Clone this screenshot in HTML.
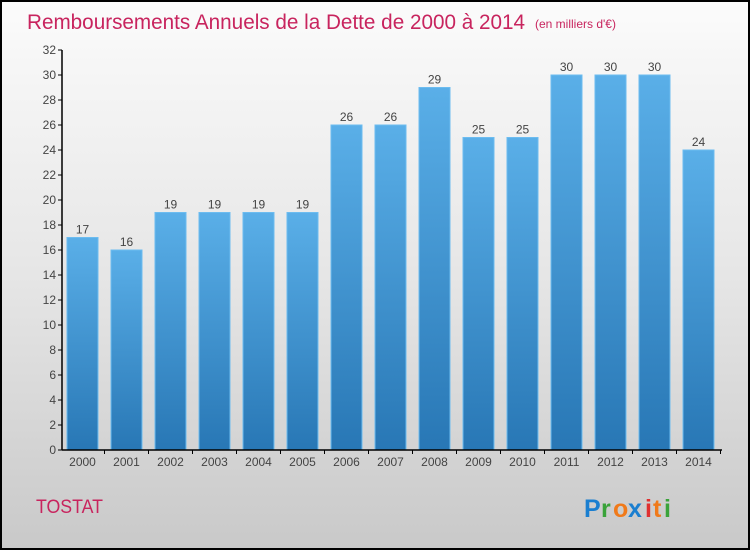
<!DOCTYPE html>
<html><head><meta charset="utf-8"><style>
body{margin:0}
#c{width:750px;height:550px;position:relative;box-sizing:border-box;border:2px solid #000;background:linear-gradient(#fbfbfb,#e6e6e6 50%,#c9c9c9);font-family:"Liberation Sans",sans-serif;overflow:hidden}
svg{position:absolute;left:-2px;top:-2px}
</style></head><body>
<div id="c">
<svg width="750" height="550" id="s">
<defs><linearGradient id="g" x1="0" y1="0" x2="0" y2="1"><stop offset="0" stop-color="#5aafe8"/><stop offset="1" stop-color="#2877b5"/></linearGradient></defs>
<text x="27" y="29" font-size="21" fill="#c8245e" textLength="498" lengthAdjust="spacingAndGlyphs">Remboursements Annuels de la Dette de 2000 à 2014</text>
<text x="535" y="28" font-size="12" fill="#c8245e">(en milliers d'€)</text>
<text x="36" y="513" font-size="19" fill="#c8245e" textLength="67" lengthAdjust="spacingAndGlyphs">TOSTAT</text>
<g font-size="25" font-weight="bold">
<text x="584" y="517" fill="#1b7fd0">P</text><text x="601" y="517" fill="#3aa33a">r</text><text x="613" y="517" fill="#f07a1a">o</text><text x="628" y="517" fill="#1b7fd0">x</text><text x="645" y="517" fill="#e03030">i</text><text x="653" y="517" fill="#f07a1a">t</text><text x="664" y="517" fill="#3aa33a">i</text></g>
<g id="plot"></g>
</svg></div>
<script>
const years=["2000","2001","2002","2003","2004","2005","2006","2007","2008","2009","2010","2011","2012","2013","2014"];
const values=[17,16,19,19,19,19,26,26,29,25,25,30,30,30,24];
const yTicks=[0,2,4,6,8,10,12,14,16,18,20,22,24,26,28,30,32];
const ns="http://www.w3.org/2000/svg",p=document.getElementById('plot');
const y=v=>450-v*12.5, x=i=>82.5+i*44;
function mk(t,a,txt){const e=document.createElementNS(ns,t);for(const k in a)e.setAttribute(k,a[k]);if(txt!==undefined)e.textContent=txt;p.appendChild(e);return e;}
yTicks.forEach(v=>{
 const l=mk('line',{x1:58,x2:62,y1:y(v),y2:y(v),stroke:'#000'});
 
 
 const t=mk('text',{x:56,y:y(v)+4,'font-size':12,fill:'#444','text-anchor':'end'},v);
 
 
});
values.forEach((v,i)=>{
 const r=mk('rect',{x:x(i)-15.5,y:y(v),width:31,height:450-y(v),fill:'url(#g)',stroke:'#6cbcf0','stroke-width':1});
 
 
 const t=mk('text',{x:x(i),y:y(v)-4,'font-size':12,fill:'#444','text-anchor':'middle'},v);
 
 
 const xl=mk('text',{x:x(i),y:466,'font-size':12,fill:'#444','text-anchor':'middle'},years[i]);
 
 
 const tk=mk('line',{x1:x(i)+22,x2:x(i)+22,y1:450,y2:454,stroke:'#000'});
 
 
});
const ya=mk('line',{x1:62,x2:62,y1:y(32),y2:450,stroke:'#000','stroke-width':1.5});


const xa=mk('line',{x1:62,x2:722,y1:450,y2:450,stroke:'#000','stroke-width':1.5});


</script>
</body></html>
